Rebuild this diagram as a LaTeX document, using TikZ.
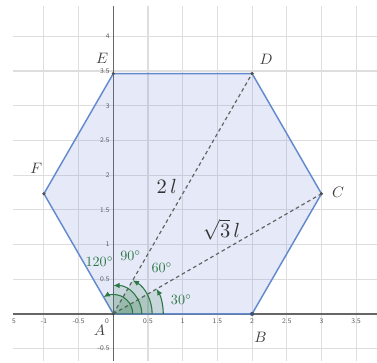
\documentclass[tikz,border=0pt]{standalone}
\usepackage{tikz}
\usetikzlibrary{arrows.meta,angles}

\definecolor{hexfill}{RGB}{92,120,210}
\definecolor{hexedge}{RGB}{100,138,206}
\definecolor{anggreen}{RGB}{46,118,70}
\definecolor{gridgray}{RGB}{222,222,222}

\begin{document}
\begin{tikzpicture}[
  x=1cm, y=1cm,
  gridline/.style={draw=gridgray, line width=0.45pt},
  axis/.style={draw=black!60, line width=0.5pt},
  hexagon/.style={draw=hexedge, fill=hexfill, fill opacity=0.16, draw opacity=1, line width=0.6pt, line join=round},
  diag/.style={draw=black!60, dash pattern=on 1.5pt off 1.2pt, line width=0.5pt},
  vertex/.style={circle, fill=black!70, inner sep=0pt, minimum size=1.4pt},
  ptlabel/.style={font=\normalsize, text=black!75, scale=0.62, transform shape},
  ticklabel/.style={font=\sffamily\fontsize{8}{9}\selectfont, text=black!65, inner sep=0.8pt, scale=0.36, transform shape},
  angsector/.style={fill=anggreen, fill opacity=0.16, draw=none},
  angarc/.style={draw=anggreen, line width=0.45pt, -{Latex[length=0.9mm, width=0.8mm]}},
  anglabel/.style={font=\normalsize, text=anggreen, scale=0.58, transform shape},
  seglabel/.style={font=\normalsize, text=black!80, scale=0.84, transform shape}
]
\useasboundingbox (-1.633,-0.706) rectangle (3.80,4.524);

% grid and axes
\coordinate (gridsw) at (-1.445,-0.68);
\coordinate (gridne) at (3.80,4.44);
\draw[gridline] (gridsw) grid[step=0.5] (gridne);

\coordinate (xmin) at (-1.445,0);
\coordinate (xmax) at (3.80,0);
\coordinate (ymin) at (0,-0.68);
\coordinate (ymax) at (0,4.44);
\draw[axis] (xmin) -- (xmax);
\draw[axis] (ymin) -- (ymax);

\foreach \x in {-1,-0.5,0.5,1,1.5,2,2.5,3,3.5}
  \node[ticklabel] at (\x,-0.1) {\x};
\foreach \y in {-0.5,0.5,1,1.5,2,2.5,3,3.5,4}
  \node[ticklabel, anchor=east] at (-0.04,\y) {\y};
\node[ticklabel] (orig) at (-0.09,-0.1) {0};
\node[ticklabel] (cutx) at (-1.43,-0.1) {5};

% hexagon
\coordinate (A) at (0,0);
\coordinate (B) at (2,0);
\coordinate (C) at (3,1.7321);
\coordinate (D) at (2,3.4641);
\coordinate (E) at (0,3.4641);
\coordinate (F) at (-1,1.7321);

\draw[hexagon] (A) -- (B) -- (C) -- (D) -- (E) -- (F) -- cycle;

\draw[diag] (A) -- (D);
\draw[diag] (A) -- (C);

% angles at A
\foreach \r/\p in {0.72/C,0.56/D,0.41/E,0.28/F} {
  \pic[angsector, angle radius=\r cm] {angle=B--A--\p};
  \pic[angarc, angle radius=\r cm] {angle=B--A--\p};
}

\node[anglabel] (ang30) at (0.98,0.21) {$30^\circ$};
\node[anglabel] (ang60) at (0.70,0.66) {$60^\circ$};
\node[anglabel] (ang90) at (0.25,0.84) {$90^\circ$};
\node[anglabel] (ang120) at (-0.20,0.75) {$120^\circ$};

\node[seglabel] (lenAD) at (0.77,1.84) {$2\,l$};
\node[seglabel] (lenAC) at (1.56,1.21) {$\sqrt{3}\,l$};

% vertices
\foreach \v in {A,C,D,E,F}
  \node[vertex] at (\v) {};
\node[vertex, fill=hexedge!60!black, minimum size=1.7pt] at (B) {};

\node[ptlabel] (labA) at (-0.2,-0.23) {$A$};
\node[ptlabel] (labB) at (2.12,-0.34) {$B$};
\node[ptlabel] (labC) at (3.24,1.75) {$C$};
\node[ptlabel] (labD) at (2.2,3.67) {$D$};
\node[ptlabel] (labE) at (-0.16,3.68) {$E$};
\node[ptlabel] (labF) at (-1.11,2.1) {$F$};
\end{tikzpicture}
\end{document}
